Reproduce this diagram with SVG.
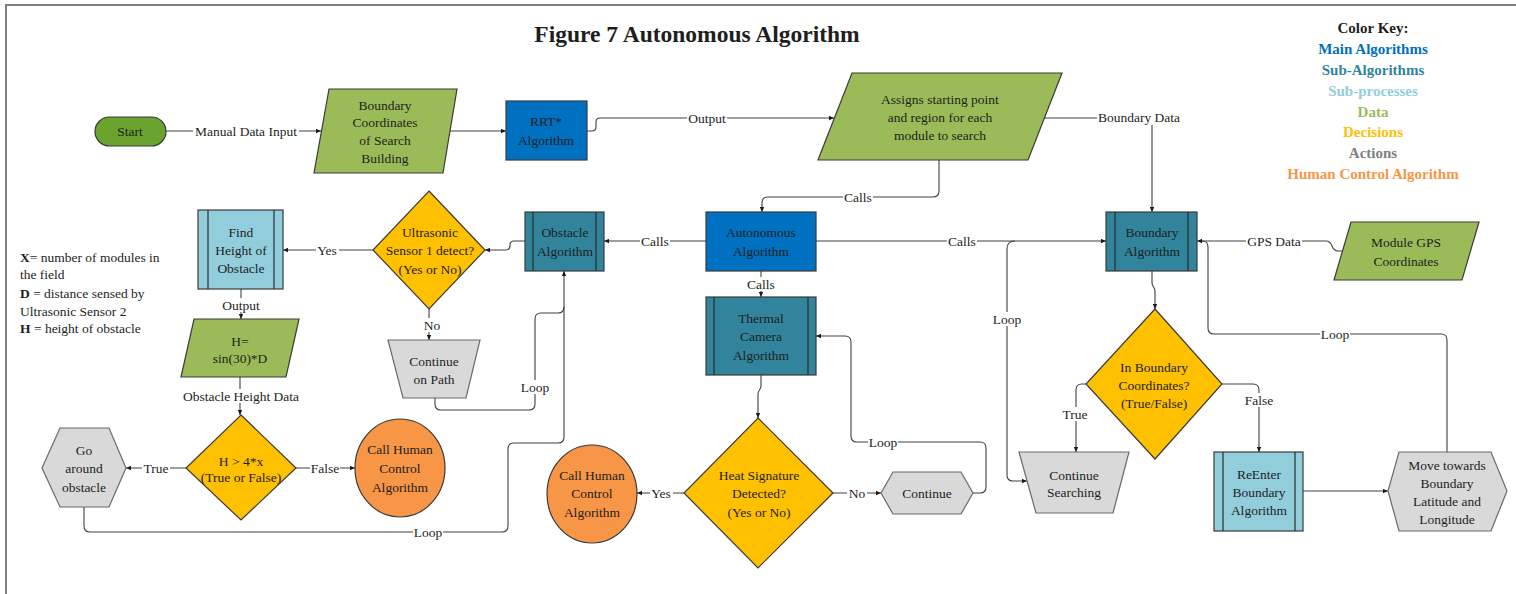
<svg xmlns="http://www.w3.org/2000/svg" width="1516" height="594" viewBox="0 0 1516 594">
<defs>
<style>
text{font-family:"Liberation Serif","Times New Roman",serif;fill:#1e1e1e;dominant-baseline:central}
.t{font-size:13.5px;text-anchor:middle}
.lbl{font-size:13.5px;text-anchor:middle}
.bg{fill:#fff;stroke:none}
.c{fill:none;stroke:#404040;stroke-width:1.1}
.a{marker-end:url(#ah)}
.nd{stroke:#3a3a3a;stroke-width:1.2}
.main{fill:#0070c0}
.sub{fill:#31849b}
.sp{fill:#92cddc}
.data{fill:#9bbb59}
.dec{fill:#ffc000}
.act{fill:#d9d9d9;stroke:#6a6a6a}
.hum{fill:#f79646}
.in{stroke:#2a2a2a;stroke-width:1.2}
.key{font-size:15px;font-weight:bold;text-anchor:middle}
.leg{font-size:13.5px}
</style>
<marker id="ah" viewBox="0 0 8 8" refX="8" refY="4" markerWidth="6" markerHeight="5" markerUnits="userSpaceOnUse" orient="auto">
<path d="M0,0.5 L8,4 L0,7.5 z" fill="#1a1a1a"/>
</marker>
</defs>
<rect x="0" y="0" width="1516" height="594" fill="#fff"/>
<rect x="6" y="5" width="1540" height="640" fill="none" stroke="#7f7f7f" stroke-width="2"/>

<text x="697" y="34" style="font-size:23.5px;font-weight:bold;text-anchor:middle">Figure 7 Autonomous Algorithm</text>

<g id="color-key">
<text class="key" x="1373" y="28">Color Key:</text>
<text class="key" x="1373" y="49" style="fill:#0070c0">Main Algorithms</text>
<text class="key" x="1373" y="70" style="fill:#31849b">Sub-Algorithms</text>
<text class="key" x="1373" y="91" style="fill:#92cddc">Sub-processes</text>
<text class="key" x="1373" y="112" style="fill:#9bbb59">Data</text>
<text class="key" x="1373" y="132" style="fill:#ffc000">Decisions</text>
<text class="key" x="1373" y="153" style="fill:#7f7f7f">Actions</text>
<text class="key" x="1373" y="174" style="fill:#f79646">Human Control Algorithm</text>
</g>

<g id="variables-legend">
<text class="leg" x="20" y="257"><tspan font-weight="bold">X</tspan>= number of modules in</text>
<text class="leg" x="20" y="274">the field</text>
<text class="leg" x="20" y="293"><tspan font-weight="bold">D</tspan> = distance sensed by</text>
<text class="leg" x="20" y="311">Ultrasonic Sensor 2</text>
<text class="leg" x="20" y="328"><tspan font-weight="bold">H</tspan> = height of obstacle</text>
</g>

<g id="connectors">
<path class="c a" d="M166,131 L321,131"/>
<rect class="bg" x="193" y="124" width="106" height="14"/>
<text class="lbl" x="246" y="131">Manual Data Input</text>
<path class="c a" d="M450,131 L506,131"/>
<path class="c a" d="M587,131 L592,131 Q596,131 596,127 L596,122 Q596,118 600,118 L834,118"/>
<rect class="bg" x="687" y="111" width="40" height="14"/>
<text class="lbl" x="707" y="118">Output</text>
<path class="c a" d="M1044,118 L1146,118 Q1152,118 1152,124 L1152,212"/>
<rect class="bg" x="1097" y="110" width="84" height="15"/>
<text class="lbl" x="1139" y="117">Boundary Data</text>
<path class="c a" d="M939,160 L939,191 Q939,197 933,197 L768,197 Q762,197 762,203 L762,212"/>
<rect class="bg" x="843" y="190" width="30" height="14"/>
<text class="lbl" x="858" y="197">Calls</text>
<path class="c a" d="M706,241 L604,241"/>
<rect class="bg" x="640" y="234" width="30" height="14"/>
<text class="lbl" x="655" y="241">Calls</text>
<path class="c a" d="M761,271 L761,297"/>
<rect class="bg" x="746" y="277" width="30" height="14"/>
<text class="lbl" x="761" y="284">Calls</text>
<path class="c a" d="M816,241 L1106,241"/>
<rect class="bg" x="947" y="234" width="30" height="14"/>
<text class="lbl" x="962" y="241">Calls</text>
<path class="c a" d="M525,241 L514,241 Q510,241 510,245 Q510,250 506,250 L485,250"/>
<path class="c a" d="M373,250 L283,250"/>
<rect class="bg" x="316" y="243" width="23" height="14"/>
<text class="lbl" x="327" y="250">Yes</text>
<path class="c a" d="M241,289 L241,319"/>
<rect class="bg" x="221" y="298" width="40" height="14"/>
<text class="lbl" x="241" y="305">Output</text>
<path class="c a" d="M240,377 L240,415"/>
<rect class="bg" x="181" y="389" width="120" height="14"/>
<text class="lbl" x="241" y="396">Obstacle Height Data</text>
<path class="c a" d="M186,468 L126,468"/>
<rect class="bg" x="142" y="461" width="28" height="14"/>
<text class="lbl" x="156" y="468">True</text>
<path class="c a" d="M296,468 L355,468"/>
<rect class="bg" x="310" y="461" width="30" height="14"/>
<text class="lbl" x="325" y="468">False</text>
<path class="c a" d="M84,507 L84,526 Q84,532 90,532 L502,532 Q508,532 508,526 L508,449 Q508,443 514,443 L558,443 Q564,443 564,437 L564,271"/>
<rect class="bg" x="413" y="525" width="30" height="14"/>
<text class="lbl" x="428" y="532">Loop</text>
<path class="c" d="M435,398 L435,404 Q435,410 441,410 L529,410 Q535,410 535,404 L535,319 Q535,313 541,313 L558,313 Q564,313 564,307"/>
<rect class="bg" x="520" y="380" width="30" height="14"/>
<text class="lbl" x="535" y="387">Loop</text>
<path class="c a" d="M429,309 L429,340"/>
<rect class="bg" x="422" y="318" width="20" height="14"/>
<text class="lbl" x="432" y="325">No</text>
<path class="c a" d="M761,375 L761,386 C761,390 758,390 758,394 L758,418"/>
<path class="c a" d="M684,493 L637,493"/>
<rect class="bg" x="650" y="486" width="23" height="14"/>
<text class="lbl" x="661" y="493">Yes</text>
<path class="c a" d="M833,493 L881,493"/>
<rect class="bg" x="847" y="486" width="20" height="14"/>
<text class="lbl" x="857" y="493">No</text>
<path class="c a" d="M973,493 L980,493 Q986,493 986,487 L986,448 Q986,442 980,442 L857,442 Q851,442 851,436 L851,342 Q851,336 845,336 L816,336"/>
<rect class="bg" x="868" y="435" width="30" height="14"/>
<text class="lbl" x="883" y="442">Loop</text>
<path class="c a" d="M1342,251 L1338,251 Q1334,251 1332,246 Q1330,241 1326,241 L1197,241"/>
<rect class="bg" x="1246" y="234" width="56" height="14"/>
<text class="lbl" x="1274" y="241">GPS Data</text>
<path class="c" d="M1447,452 L1447,340 Q1447,334 1441,334 L1214,334 Q1208,334 1208,328 L1208,247 Q1208,241 1202,241"/>
<rect class="bg" x="1320" y="327" width="30" height="14"/>
<text class="lbl" x="1335" y="334">Loop</text>
<path class="c a" d="M1152,271 L1152,283 C1152,287 1155,287 1155,291 L1155,309"/>
<path class="c a" d="M1086,384 L1082,384 Q1076,384 1076,390 L1076,452"/>
<rect class="bg" x="1061" y="407" width="28" height="14"/>
<text class="lbl" x="1075" y="414">True</text>
<path class="c a" d="M1222,384 L1253,384 Q1259,384 1259,390 L1259,452"/>
<rect class="bg" x="1244" y="393" width="30" height="14"/>
<text class="lbl" x="1259" y="400">False</text>
<path class="c a" d="M1015,241 Q1007,241 1007,249 L1007,475 Q1007,481 1013,481 L1027,481"/>
<rect class="bg" x="992" y="312" width="30" height="14"/>
<text class="lbl" x="1007" y="319">Loop</text>
<path class="c a" d="M1303,491 L1388,491"/>
</g>

<g id="start">
<rect class="nd" x="95" y="117" width="71" height="29" rx="14.5" fill="#6aa42e"/>
<text class="t" x="130" y="131">Start</text>
</g>

<g id="boundary-coordinates">
<polygon class="nd data" points="329,89 457,89 443,173 314,173"/>
<text class="t" x="385" y="105">Boundary</text>
<text class="t" x="385" y="122">Coordinates</text>
<text class="t" x="385" y="140">of Search</text>
<text class="t" x="385" y="158">Building</text>
</g>

<g id="rrt">
<rect class="nd main" x="506" y="101" width="81" height="59"/>
<text class="t" x="546" y="121">RRT*</text>
<text class="t" x="546" y="140">Algorithm</text>
</g>

<g id="assigns">
<polygon class="nd data" points="852,73 1062,73 1028,160 818,160"/>
<text class="t" x="940" y="99">Assigns starting point</text>
<text class="t" x="940" y="117">and region for each</text>
<text class="t" x="940" y="135">module to search</text>
</g>

<g id="autonomous">
<rect class="nd main" x="706" y="212" width="110" height="59"/>
<text class="t" x="761" y="232">Autonomous</text>
<text class="t" x="761" y="251">Algorithm</text>
</g>

<g id="obstacle">
<rect class="nd sub" x="525" y="212" width="79" height="59"/>
<line class="in" x1="533" y1="212" x2="533" y2="271"/>
<line class="in" x1="596" y1="212" x2="596" y2="271"/>
<text class="t" x="565" y="232">Obstacle</text>
<text class="t" x="565" y="251">Algorithm</text>
</g>

<g id="thermal">
<rect class="nd sub" x="706" y="297" width="110" height="78"/>
<line class="in" x1="714" y1="297" x2="714" y2="375"/>
<line class="in" x1="808" y1="297" x2="808" y2="375"/>
<text class="t" x="761" y="318">Thermal</text>
<text class="t" x="761" y="336">Camera</text>
<text class="t" x="761" y="355">Algorithm</text>
</g>

<g id="boundary-algorithm">
<rect class="nd sub" x="1106" y="212" width="91" height="59"/>
<line class="in" x1="1115" y1="212" x2="1115" y2="271"/>
<line class="in" x1="1188" y1="212" x2="1188" y2="271"/>
<text class="t" x="1152" y="232">Boundary</text>
<text class="t" x="1152" y="251">Algorithm</text>
</g>

<g id="module-gps">
<polygon class="nd data" points="1351,222 1479,222 1462,280 1334,280"/>
<text class="t" x="1406" y="242">Module GPS</text>
<text class="t" x="1406" y="261">Coordinates</text>
</g>

<g id="ultrasonic">
<polygon class="nd dec" points="429,191 485,250 429,309 373,250"/>
<text class="t" x="430" y="232">Ultrasonic</text>
<text class="t" x="430" y="250">Sensor 1 detect?</text>
<text class="t" x="430" y="269">(Yes or No)</text>
</g>

<g id="find-height">
<rect class="nd sp" x="198" y="210" width="85" height="79"/>
<line class="in" x1="208" y1="210" x2="208" y2="289"/>
<line class="in" x1="274" y1="210" x2="274" y2="289"/>
<text class="t" x="241" y="232">Find</text>
<text class="t" x="241" y="250">Height of</text>
<text class="t" x="241" y="268">Obstacle</text>
</g>

<g id="height-formula">
<polygon class="nd data" points="194,319 299,319 286,377 181,377"/>
<text class="t" x="240" y="341">H=</text>
<text class="t" x="240" y="358">sin(30)*D</text>
</g>

<g id="height-decision">
<polygon class="nd dec" points="241,415 296,468 241,520 186,468"/>
<text class="t" x="241" y="461">H &gt; 4*x</text>
<text class="t" x="241" y="477">(True or False)</text>
</g>

<g id="go-around">
<polygon class="nd act" points="60,428 109,428 126,468 109,507 60,507 42,468"/>
<text class="t" x="84" y="450">Go</text>
<text class="t" x="84" y="468">around</text>
<text class="t" x="84" y="487">obstacle</text>
</g>

<g id="human-control-1">
<ellipse class="nd hum" cx="400" cy="468" rx="45" ry="49"/>
<text class="t" x="400" y="449">Call Human</text>
<text class="t" x="400" y="468">Control</text>
<text class="t" x="400" y="487">Algorithm</text>
</g>

<g id="continue-on-path">
<polygon class="nd act" points="388,340 480,340 466,398 403,398"/>
<text class="t" x="434" y="361">Continue</text>
<text class="t" x="434" y="379">on Path</text>
</g>

<g id="heat-signature">
<polygon class="nd dec" points="758,418 833,493 758,568 684,493"/>
<text class="t" x="759" y="475">Heat Signature</text>
<text class="t" x="759" y="493">Detected?</text>
<text class="t" x="759" y="512">(Yes or No)</text>
</g>

<g id="human-control-2">
<ellipse class="nd hum" cx="592" cy="494" rx="45" ry="49"/>
<text class="t" x="592" y="475">Call Human</text>
<text class="t" x="592" y="493">Control</text>
<text class="t" x="592" y="512">Algorithm</text>
</g>

<g id="continue">
<polygon class="nd act" points="893,472 961,472 973,493 961,514 893,514 881,493"/>
<text class="t" x="927" y="493">Continue</text>
</g>

<g id="in-boundary">
<polygon class="nd dec" points="1155,309 1222,384 1155,459 1086,384"/>
<text class="t" x="1154" y="367">In Boundary</text>
<text class="t" x="1154" y="385">Coordinates?</text>
<text class="t" x="1154" y="403">(True/False)</text>
</g>

<g id="continue-searching">
<polygon class="nd act" points="1019,452 1129,452 1113,513 1036,513"/>
<text class="t" x="1074" y="475">Continue</text>
<text class="t" x="1074" y="492">Searching</text>
</g>

<g id="reenter">
<rect class="nd sp" x="1214" y="452" width="89" height="79"/>
<line class="in" x1="1223" y1="452" x2="1223" y2="531"/>
<line class="in" x1="1295" y1="452" x2="1295" y2="531"/>
<text class="t" x="1259" y="474">ReEnter</text>
<text class="t" x="1259" y="492">Boundary</text>
<text class="t" x="1259" y="510">Algorithm</text>
</g>

<g id="move-towards">
<polygon class="nd act" points="1399,452 1491,452 1507,491 1491,531 1399,531 1388,491"/>
<text class="t" x="1447" y="465">Move towards</text>
<text class="t" x="1447" y="483">Boundary</text>
<text class="t" x="1447" y="501">Latitude and</text>
<text class="t" x="1447" y="519">Longitude</text>
</g>
</svg>
